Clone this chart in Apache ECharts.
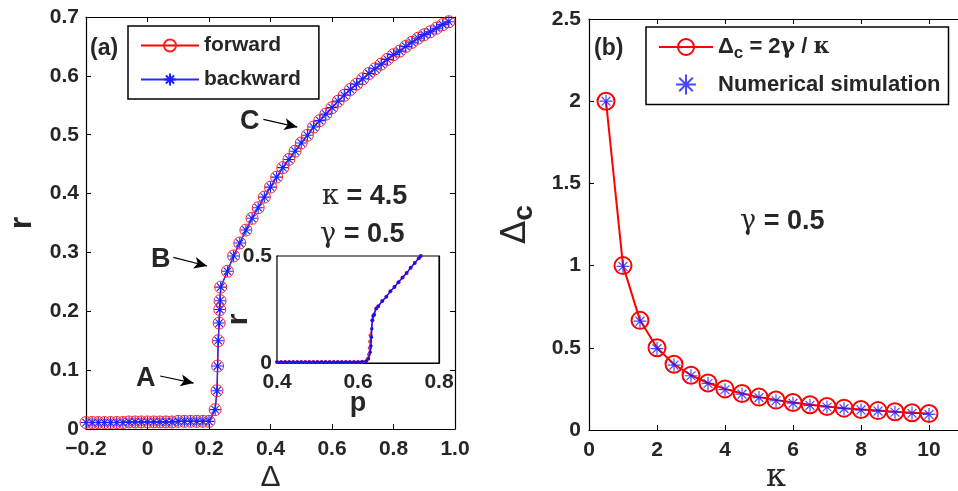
<!DOCTYPE html>
<html>
<head>
<meta charset="utf-8">
<script src="https://cdn.jsdelivr.net/npm/echarts@6/dist/echarts.min.js"></script>
<style>
html,body{margin:0;padding:0;background:#fff;}
#c{width:958px;height:491px;}
</style>
</head>
<body>
<div id="c"></div>
<script>
// ---- Panel (a): r vs Delta ----
const deltaForward = [-0.2,-0.18,-0.16,-0.14,-0.12,-0.1,-0.08,-0.06,-0.04,-0.02,0,0.02,0.04,0.06,0.08,0.1,0.12,0.14,0.16,0.18,0.2,
  0.22,0.226,0.228,0.23,0.233,0.235,0.236,0.238,0.26,0.28,0.3,0.32,0.34,0.36,0.38,0.4,0.42,0.44,0.46,0.48,0.5,0.52,0.54,0.56,0.58,0.6,
  0.62,0.64,0.66,0.68,0.7,0.72,0.74,0.76,0.78,0.8,0.82,0.84,0.86,0.88,0.9,0.92,0.94,0.96,0.98];
const rForward = [0.011,0.011,0.011,0.011,0.011,0.011,0.011,0.012,0.012,0.012,0.012,0.012,0.012,0.012,0.012,0.013,0.013,0.013,0.013,0.013,0.013,
  0.033,0.065,0.107,0.150,0.180,0.203,0.218,0.241,0.268,0.294,0.316,0.338,0.358,0.376,0.394,0.411,0.428,0.444,0.458,0.472,0.486,0.499,0.513,0.524,0.535,0.546,
  0.557,0.567,0.577,0.586,0.595,0.604,0.612,0.620,0.628,0.636,0.642,0.650,0.657,0.664,0.670,0.675,0.681,0.687,0.692];
const deltaBackward = deltaForward.slice();
const rBackward = [0.011,0.011,0.011,0.011,0.011,0.011,0.011,0.012,0.012,0.012,0.012,0.012,0.012,0.012,0.012,0.013,0.013,0.013,0.013,0.013,0.013,
  0.033,0.065,0.107,0.150,0.180,0.203,0.218,0.241,0.268,0.294,0.316,0.338,0.358,0.376,0.394,0.411,0.428,0.444,0.458,0.472,0.486,0.499,0.513,0.524,0.535,0.546,
  0.557,0.567,0.577,0.586,0.595,0.604,0.612,0.620,0.628,0.636,0.642,0.650,0.657,0.664,0.670,0.675,0.681,0.687,0.692];

// ---- Inset: r vs p ----
const pForward = [0.4,0.41,0.42,0.43,0.44,0.45,0.46,0.47,0.48,0.49,0.5,0.51,0.52,0.53,0.54,0.55,0.56,0.57,0.58,0.59,0.6,0.61,0.62,
  0.624,0.627,0.629,0.630,0.631,0.636,0.640,0.645,0.65,0.66,0.67,0.68,0.69,0.7,0.71,0.72,0.73,0.74,0.75,0.755];
const rInsetForward = [0.005,0.005,0.005,0.005,0.005,0.005,0.005,0.005,0.005,0.005,0.005,0.005,0.005,0.005,0.005,0.005,0.005,0.005,0.005,0.005,0.005,0.006,0.008,
  0.02,0.04,0.07,0.10,0.13,0.20,0.225,0.255,0.265,0.29,0.31,0.335,0.355,0.377,0.40,0.42,0.445,0.467,0.49,0.50];
const pBackward = [0.4,0.41,0.42,0.43,0.44,0.45,0.46,0.47,0.48,0.49,0.5,0.51,0.52,0.53,0.54,0.55,0.56,0.57,0.58,0.59,0.6,0.61,0.62,
  0.626,0.630,0.632,0.633,0.634,0.635,0.637,0.640,0.645,0.65,0.66,0.67,0.68,0.69,0.7,0.71,0.72,0.73,0.74,0.75,0.755];
const rInsetBackward = [0.005,0.005,0.005,0.005,0.005,0.005,0.005,0.005,0.005,0.005,0.005,0.005,0.005,0.005,0.005,0.005,0.005,0.005,0.005,0.005,0.005,0.006,0.008,
  0.02,0.05,0.08,0.12,0.16,0.20,0.22,0.225,0.255,0.265,0.29,0.31,0.335,0.355,0.377,0.40,0.42,0.445,0.467,0.49,0.50];

// ---- Panel (b): Delta_c vs kappa ----
const kappa = [0.5,1,1.5,2,2.5,3,3.5,4,4.5,5,5.5,6,6.5,7,7.5,8,8.5,9,9.5,10];
const deltaCTheory = [2,1,0.667,0.5,0.4,0.333,0.286,0.25,0.222,0.2,0.182,0.167,0.154,0.143,0.133,0.125,0.118,0.111,0.105,0.1];
const deltaCNumerical = [2,0.995,0.662,0.495,0.395,0.33,0.283,0.245,0.218,0.197,0.178,0.163,0.15,0.14,0.13,0.122,0.115,0.108,0.102,0.095];

const zip = (a,b) => a.map((v,i)=>[v,b[i]]);
const TXT = '#262626';
const FONT = 'Liberation Sans, Arial, Helvetica, sans-serif';
const STAR = 'path://M5 0 L5 10 M0 5 L10 5 M1.6 1.6 L8.4 8.4 M8.4 1.6 L1.6 8.4';

const chart = echarts.init(document.getElementById('c'), null, {renderer:'canvas'});

const lbl = {color: TXT, fontSize: 21, fontWeight: 'bold', fontFamily: FONT};
const axLine = {show:true, onZero:false, lineStyle:{color:'#000', width:1.2}};
const tickIn = {show:true, inside:true, length:5, lineStyle:{color:'#000', width:1}};

const fmtA = v => {
  const r = Math.round(v*10)/10;
  if (r === 1) return '1.0';
  if (r < 0) return '\u2212' + Math.abs(r);
  return String(r);
};

const option = {
  animation: false,
  backgroundColor: '#fff',
  textStyle: {fontFamily: FONT},
  grid: [
    {left: 86, top: 17, width: 369, height: 412, show:false, outerBoundsMode:'none', containLabel:false},
    {left: 589, top: 19, width: 374, height: 411, show:false, outerBoundsMode:'none', containLabel:false},
    {left: 277, top: 256, width: 162, height: 107, show:true, backgroundColor:'#fff', borderColor:'#000', borderWidth:1.2, z:5, outerBoundsMode:'none', containLabel:false}
  ],
  xAxis: [
    {gridIndex:0, type:'value', min:-0.2, max:1.0, interval:0.2, position:'bottom',
     axisLine:axLine, axisTick:tickIn, splitLine:{show:false},
     axisLabel:Object.assign({margin:10, formatter: fmtA}, lbl),
     name:'\u0394', nameLocation:'middle', nameGap:34, nameMoveOverlap:false,
     nameTextStyle:{color:TXT, fontSize:30, fontFamily:FONT}},
    {gridIndex:0, type:'value', min:-0.2, max:1.0, interval:0.2, position:'top',
     axisLine:axLine, axisTick:tickIn, axisLabel:{show:false}, splitLine:{show:false}},
    {gridIndex:1, type:'value', min:0, max:11, interval:2, position:'bottom',
     axisLine:axLine, axisTick:tickIn, splitLine:{show:false},
     axisLabel:Object.assign({margin:10, showMaxLabel:false}, lbl),
     name:'\u03ba', nameLocation:'middle', nameGap:32, nameMoveOverlap:false,
     nameTextStyle:{color:TXT, fontSize:32, fontFamily:'DejaVu Serif, serif'}},
    {gridIndex:1, type:'value', min:0, max:11, interval:2, position:'top',
     axisLine:axLine, axisTick:tickIn, axisLabel:{show:false}, splitLine:{show:false}},
    {gridIndex:2, type:'value', min:0.4, max:0.8, interval:0.2, position:'bottom',
     axisLine:axLine, axisTick:tickIn, splitLine:{show:false},
     axisLabel:Object.assign({margin:9}, lbl),
     name:'p', nameLocation:'middle', nameGap:27, nameMoveOverlap:false,
     nameTextStyle:{color:TXT, fontSize:27, fontWeight:'bold', fontFamily:FONT}},
    {gridIndex:2, type:'value', min:0.4, max:0.8, interval:0.2, position:'top',
     axisLine:axLine, axisTick:tickIn, axisLabel:{show:false}, splitLine:{show:false}}
  ],
  yAxis: [
    {gridIndex:0, type:'value', min:0, max:0.7, interval:0.1, position:'left',
     axisLine:axLine, axisTick:tickIn, splitLine:{show:false},
     axisLabel:Object.assign({margin:7}, lbl),
     name:'r', nameLocation:'middle', nameGap:48, nameMoveOverlap:false,
     nameTextStyle:{color:TXT, fontSize:32, fontWeight:'bold', fontFamily:FONT}},
    {gridIndex:0, type:'value', min:0, max:0.7, interval:0.1, position:'right',
     axisLine:axLine, axisTick:tickIn, axisLabel:{show:false}, splitLine:{show:false}},
    {gridIndex:1, type:'value', min:0, max:2.5, interval:0.5, position:'left',
     axisLine:axLine, axisTick:tickIn, splitLine:{show:false},
     axisLabel:Object.assign({margin:8}, lbl),
     name:'{d|\u0394}{s|c}', nameLocation:'middle', nameGap:51, nameMoveOverlap:false,
     nameTextStyle:{color:TXT, fontSize:32, fontFamily:FONT,
       rich:{d:{fontSize:34, color:TXT, fontFamily:'DejaVu Sans, sans-serif'},
             s:{fontSize:28, fontWeight:'bold', color:TXT, fontFamily:FONT, padding:[16,0,0,0]}}}},
    {gridIndex:2, type:'value', min:0, max:0.5, interval:0.5, position:'left',
     axisLine:axLine, axisTick:tickIn, splitLine:{show:false},
     axisLabel:Object.assign({margin:5}, lbl),
     name:'r', nameLocation:'middle', nameGap:23, nameMoveOverlap:false,
     nameTextStyle:{color:TXT, fontSize:30, fontWeight:'bold', fontFamily:FONT, padding:[0,20,0,0]}},
    {gridIndex:2, type:'value', min:0, max:0.5, interval:0.1, position:'right',
     axisLine:axLine, axisTick:{show:true, inside:true, length:4, lineStyle:{color:'#000'}}, axisLabel:{show:false}, splitLine:{show:false}}
  ],
  legend: [
    {left:128, top:26, orient:'vertical', data:['forward','backward'],
     backgroundColor:'#fff', borderColor:'#000', borderWidth:1.5, padding:[9,18,9,12],
     itemWidth:58, itemHeight:15, itemGap:13,
     textStyle:{color:TXT, fontSize:21, fontWeight:'bold', fontFamily:FONT}},
    {left:646, top:27, orient:'vertical', data:['theory','Numerical simulation'],
     backgroundColor:'#fff', borderColor:'#000', borderWidth:1.5, padding:[9,8,9,12],
     itemWidth:54, itemHeight:20, itemGap:12,
     formatter: n => n === 'theory' ? '{d|\u0394}{s|c}{d| = 2}{g|\u03b3}{d| / }{g|\u03ba}' : n,
     textStyle:{color:TXT, fontSize:22, fontWeight:'bold', fontFamily:FONT,
       rich:{d:{fontSize:22, fontWeight:'bold', color:TXT, fontFamily:FONT},
             g:{fontSize:22, color:TXT, fontFamily:'DejaVu Serif, serif'},
             s:{fontSize:17, fontWeight:'bold', color:TXT, fontFamily:FONT, padding:[12,0,0,0]}}}}
  ],
  series: [
    {name:'forward', type:'line', xAxisIndex:0, yAxisIndex:0, data: zip(deltaForward, rForward),
     symbol:'circle', symbolSize:12, showAllSymbol:true,
     lineStyle:{color:'#ff0000', width:1},
     itemStyle:{color:'rgba(255,255,255,0)', borderColor:'#ff2020', borderWidth:1},
     markLine:{silent:true, symbol:['none','arrow'], symbolSize:[9,13], label:{show:false},
       lineStyle:{color:'#000', width:1.2, type:'solid'},
       data:[
         [{coord:[0.041,0.090]},{coord:[0.150,0.078]}],
         [{coord:[0.084,0.2915]},{coord:[0.194,0.277]}],
         [{coord:[0.377,0.526]},{coord:[0.487,0.513]}]
       ]}},
    {name:'backward', type:'line', xAxisIndex:0, yAxisIndex:0, data: zip(deltaBackward, rBackward),
     symbol:STAR, symbolSize:11, showAllSymbol:true, z:3,
     lineStyle:{color:'#2a2aff', width:1.5},
     itemStyle:{color:'rgba(0,0,0,0)', borderColor:'#2020ff', borderWidth:1.1}},
    {name:'inset forward', type:'line', xAxisIndex:4, yAxisIndex:3, data: zip(pForward, rInsetForward),
     symbol:'circle', symbolSize:4, z:6, clip:true,
     lineStyle:{color:'#ff0000', width:1},
     itemStyle:{color:'#ff3030', borderWidth:0}},
    {name:'inset backward', type:'line', xAxisIndex:4, yAxisIndex:3, data: zip(pBackward, rInsetBackward),
     symbol:'circle', symbolSize:3.5, z:7, clip:true,
     lineStyle:{color:'#1010ff', width:1.5},
     itemStyle:{color:'#1010ff', borderWidth:0}},
    {name:'theory', type:'line', xAxisIndex:2, yAxisIndex:2, data: zip(kappa, deltaCTheory),
     symbol:'circle', symbolSize:17,
     lineStyle:{color:'#ff0000', width:2},
     itemStyle:{color:'rgba(255,255,255,0)', borderColor:'#ff0000', borderWidth:2}},
    {name:'Numerical simulation', type:'scatter', xAxisIndex:2, yAxisIndex:2, data: zip(kappa, deltaCNumerical),
     symbol:STAR, symbolSize:13, z:4,
     itemStyle:{color:'rgba(0,0,0,0)', borderColor:'#1a1aff', borderWidth:1.2}}
  ],
  graphic: [
    {type:'text', left:90, top:37, style:{text:'(a)', fill:TXT, font:'bold 23px '+FONT}},
    {type:'text', left:594, top:37, style:{text:'(b)', fill:TXT, font:'bold 23px '+FONT}},
    {type:'text', left:136, top:365, style:{text:'A', fill:TXT, font:'bold 27px '+FONT}},
    {type:'text', left:151, top:246, style:{text:'B', fill:TXT, font:'bold 27px '+FONT}},
    {type:'text', left:240, top:108, style:{text:'C', fill:TXT, font:'bold 27px '+FONT}},
    {type:'text', left:322, top:183, style:{text:'{g|\u03ba}{d| = 4.5}', fill:TXT,
      rich:{g:{fontSize:27, fill:TXT, fontFamily:'DejaVu Serif, serif'}, d:{fontSize:27, fontWeight:'bold', fill:TXT, fontFamily:FONT}}}},
    {type:'text', left:320, top:221, style:{text:'{g|\u03b3}{d| = 0.5}', fill:TXT,
      rich:{g:{fontSize:27, fill:TXT, fontFamily:'DejaVu Serif, serif'}, d:{fontSize:27, fontWeight:'bold', fill:TXT, fontFamily:FONT}}}},
    {type:'text', left:740, top:208, style:{text:'{g|\u03b3}{d| = 0.5}', fill:TXT,
      rich:{g:{fontSize:27, fill:TXT, fontFamily:'DejaVu Serif, serif'}, d:{fontSize:27, fontWeight:'bold', fill:TXT, fontFamily:FONT}}}}
  ]
};
chart.setOption(option);
</script>
</body>
</html>
